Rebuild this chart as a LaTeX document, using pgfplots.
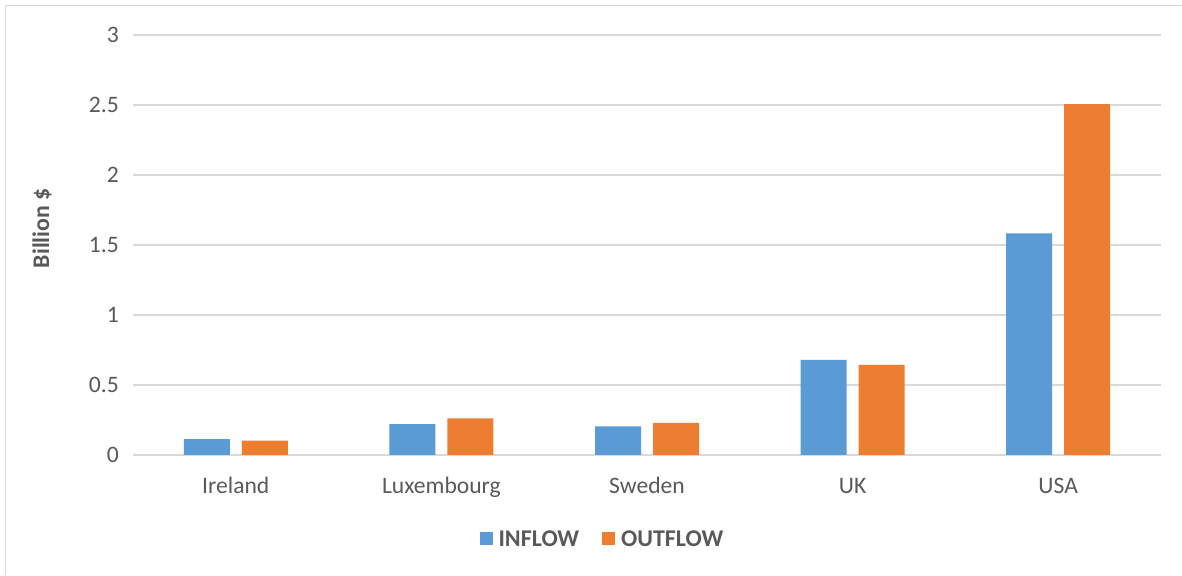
\documentclass[border=0pt]{standalone}
\usepackage{pgfplots}
\pgfplotsset{compat=1.18}
\usepackage{fontspec}
\setmainfont{Carlito}
\definecolor{inblue}{HTML}{5B9BD5}
\definecolor{outorange}{HTML}{ED7D31}
\definecolor{gridgray}{HTML}{D9D9D9}
\definecolor{txtgray}{HTML}{595959}
\definecolor{framegray}{HTML}{D9D9D9}
\begin{document}
\begin{tikzpicture}[x=1pt,y=1pt]
\useasboundingbox (0,0) rectangle (1182,575);
\draw[framegray, line width=1.5pt] (5.5,0) -- (5.5,569.5) -- (1182,569.5);
\begin{axis}[
  at={(133pt,120pt)}, anchor=south west,
  scale only axis, width=1028pt, height=420pt,
  xmin=-0.5, xmax=4.5, ymin=0, ymax=3,
  enlarge x limits=false,
  ybar=12pt, bar width=46pt,
  xtick={0,1,2,3,4},
  xticklabels={Ireland,Luxembourg,Sweden,UK,USA},
  ytick={0,0.5,1,1.5,2,2.5,3},
  yticklabels={0,0.5,1,1.5,2,2.5,3},
  major tick length=0pt,
  axis x line*=bottom, axis y line*=left,
  x axis line style={draw=gridgray, line width=1.4pt, -},
  y axis line style={draw=none},
  ymajorgrids, grid style={draw=gridgray, line width=1.3pt},
  tick label style={font=\fontsize{23.6}{27}\selectfont, text=txtgray},
  xticklabel style={anchor=base, inner sep=0pt, yshift=-38pt},
  yticklabel style={anchor=east, inner sep=0pt, xshift=-14pt},
  ylabel={Billion \$},
  ylabel style={at={(axis description cs:-0.0885,0.54)}, anchor=center, font=\bfseries\fontsize{23.8}{27}\selectfont, text=txtgray},
  legend columns=2,
  legend style={at={(axis description cs:0.4567,-0.2)}, anchor=center, draw=none, fill=none,
    font=\bfseries\fontsize{24}{27}\selectfont, text=txtgray,
    /tikz/every even column/.append style={column sep=21pt},
    inner sep=0pt},
  legend image code/.code={\fill[#1] (0pt,-6.5pt) rectangle (13pt,6.5pt); \path (17pt,0pt);},
]
\addplot[fill=inblue, draw=none] coordinates {(0,0.114) (1,0.221) (2,0.205) (3,0.679) (4,1.583)};
\addplot[fill=outorange, draw=none] coordinates {(0,0.102) (1,0.262) (2,0.229) (3,0.643) (4,2.507)};
\legend{INFLOW, OUTFLOW}
\end{axis}
\end{tikzpicture}
\end{document}
